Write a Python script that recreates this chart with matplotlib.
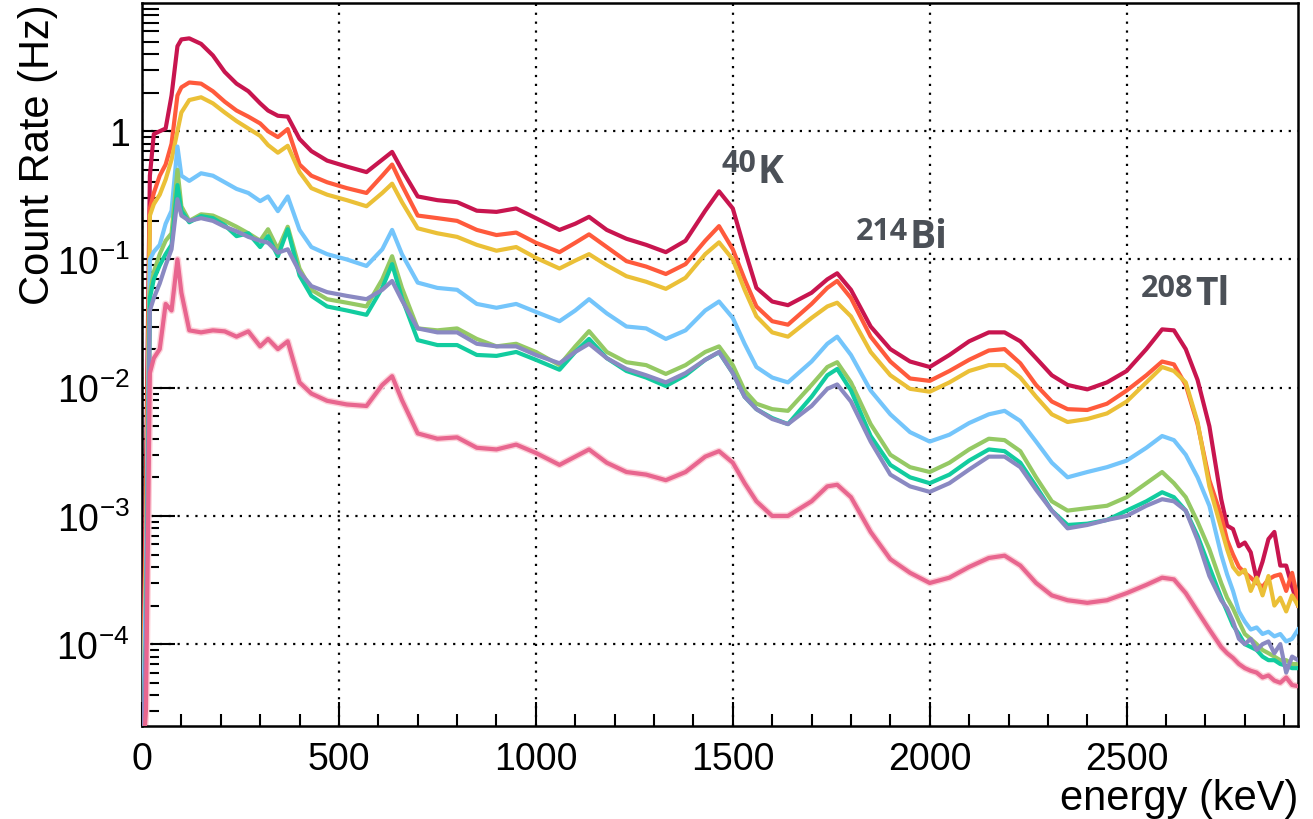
import numpy as np
import matplotlib
matplotlib.use("Agg")
import matplotlib.pyplot as plt
from matplotlib.ticker import FixedLocator, FixedFormatter, MultipleLocator

plt.rcParams['font.family'] = ['Liberation Sans', 'DejaVu Sans']
plt.rcParams['mathtext.default'] = 'regular'

# energy grid (keV) and count rates (Hz)
energy = [0, 10, 20, 30, 45, 60, 75, 90, 100, 120,
          150, 180, 210, 240, 270, 300, 320, 345, 370, 400,
          430, 470, 520, 570, 610, 635, 660, 700, 750, 800,
          850, 900, 950, 1000, 1060, 1100, 1135, 1180, 1230, 1280,
          1330, 1380, 1430, 1465, 1500, 1530, 1560, 1600, 1640, 1700,
          1740, 1765, 1800, 1850, 1900, 1950, 2000, 2050, 2100, 2150,
          2190, 2230, 2270, 2310, 2350, 2400, 2450, 2500, 2550, 2590,
          2620, 2650, 2680, 2710,
          2740, 2755, 2770, 2785, 2800, 2815, 2830, 2845, 2860, 2875,
          2890, 2905, 2920, 2935]

rate_crimson = [1e-5, 2e-3, 0.45, 0.95, 1.0, 1.05, 1.9, 4.6, 5.2, 5.3,
                4.8, 3.9, 2.9, 2.35, 2.05, 1.65, 1.45, 1.32, 1.3, 0.87,
                0.7, 0.59, 0.53, 0.48, 0.6, 0.69, 0.5, 0.31, 0.29, 0.28,
                0.24, 0.235, 0.25, 0.21, 0.17, 0.19, 0.215, 0.17, 0.145, 0.13,
                0.114, 0.14, 0.24, 0.34, 0.25, 0.12, 0.06, 0.047, 0.044, 0.055,
                0.07, 0.078, 0.058, 0.03, 0.02, 0.016, 0.0145, 0.018, 0.023, 0.027,
                0.027, 0.023, 0.017, 0.0125, 0.0105, 0.0097, 0.011, 0.0135, 0.02, 0.0285,
                0.028, 0.02, 0.0115, 0.005,
                1.35e-3, 8.4e-4, 7.9e-4, 5.8e-4, 6.2e-4, 5.2e-4, 3.2e-4, 4.4e-4, 6.6e-4, 7.5e-4,
                4.1e-4, 4.1e-4, 2.8e-4, 2.0e-4]

rate_red = [1e-5, 1e-3, 0.25, 0.33, 0.45, 0.55, 0.8, 1.9, 2.2, 2.4,
            2.35, 2.05, 1.7, 1.45, 1.3, 1.15, 1.0, 0.9, 1.04, 0.55,
            0.45, 0.4, 0.36, 0.33, 0.45, 0.55, 0.38, 0.22, 0.21, 0.2,
            0.17, 0.155, 0.162, 0.135, 0.114, 0.135, 0.157, 0.125, 0.097, 0.088,
            0.077, 0.092, 0.14, 0.182, 0.12, 0.07, 0.043, 0.033, 0.031, 0.045,
            0.06, 0.068, 0.05, 0.025, 0.016, 0.0118, 0.0113, 0.0135, 0.0165, 0.0195,
            0.02, 0.0155, 0.0105, 0.0078, 0.0068, 0.0067, 0.0075, 0.0095, 0.0125, 0.016,
            0.0152, 0.0105, 0.0052, 0.0019,
            1.0e-3, 6.5e-4, 5e-4, 4e-4, 3.6e-4, 3.3e-4, 3e-4, 2.8e-4, 3.2e-4, 3.4e-4,
            3.5e-4, 2.6e-4, 3.6e-4, 2.2e-4]

rate_yellow = [1e-5, 5e-4, 0.22, 0.27, 0.32, 0.42, 0.6, 1.0, 1.4, 1.75,
               1.84, 1.65, 1.4, 1.2, 1.05, 0.92, 0.78, 0.68, 0.77, 0.48,
               0.36, 0.32, 0.29, 0.26, 0.33, 0.39, 0.28, 0.175, 0.16, 0.15,
               0.13, 0.117, 0.125, 0.103, 0.085, 0.098, 0.11, 0.09, 0.074, 0.067,
               0.059, 0.072, 0.11, 0.136, 0.1, 0.058, 0.036, 0.027, 0.025, 0.035,
               0.043, 0.046, 0.036, 0.019, 0.0125, 0.0098, 0.0093, 0.011, 0.0135, 0.015,
               0.015, 0.012, 0.0085, 0.0062, 0.0054, 0.0057, 0.0063, 0.0078, 0.011, 0.0145,
               0.0135, 0.011, 0.0054, 0.0017,
               8e-4, 5.5e-4, 4e-4, 3.5e-4, 3.8e-4, 2.6e-4, 3.3e-4, 2.4e-4, 3.4e-4, 2e-4,
               2.3e-4, 1.8e-4, 2.4e-4, 2e-4]

rate_blue = [1e-5, 3e-4, 0.1, 0.115, 0.13, 0.19, 0.24, 0.76, 0.45, 0.41,
             0.47, 0.45, 0.4, 0.355, 0.33, 0.285, 0.31, 0.238, 0.31, 0.17,
             0.125, 0.11, 0.1, 0.089, 0.12, 0.17, 0.11, 0.066, 0.06, 0.058,
             0.045, 0.042, 0.045, 0.039, 0.033, 0.04, 0.049, 0.038, 0.03, 0.029,
             0.024, 0.028, 0.04, 0.047, 0.035, 0.022, 0.0145, 0.012, 0.011, 0.016,
             0.022, 0.025, 0.018, 0.0095, 0.0062, 0.0045, 0.0038, 0.0043, 0.0053, 0.0062,
             0.0066, 0.0055, 0.0038, 0.0026, 0.002, 0.0022, 0.0024, 0.0027, 0.0034, 0.0042,
             0.0039, 0.003, 0.002, 0.0012,
             5e-4, 3.5e-4, 2.6e-4, 1.8e-4, 1.5e-4, 1.3e-4, 1.35e-4, 1.2e-4, 1.25e-4, 1.15e-4,
             1.2e-4, 1.05e-4, 1.1e-4, 1.3e-4]

rate_green = [1e-5, 1e-4, 0.055, 0.08, 0.11, 0.14, 0.16, 0.5, 0.26, 0.2,
              0.225, 0.22, 0.2, 0.18, 0.16, 0.14, 0.172, 0.12, 0.18, 0.085,
              0.058, 0.049, 0.046, 0.043, 0.07, 0.106, 0.06, 0.029, 0.028, 0.029,
              0.024, 0.021, 0.022, 0.019, 0.015, 0.021, 0.0276, 0.019, 0.0158, 0.015,
              0.0128, 0.015, 0.019, 0.021, 0.015, 0.0095, 0.0075, 0.0068, 0.0066, 0.0105,
              0.0145, 0.0158, 0.011, 0.0052, 0.003, 0.0024, 0.0022, 0.0026, 0.0033, 0.004,
              0.0039, 0.0032, 0.002, 0.0013, 0.0011, 0.00115, 0.0012, 0.0014, 0.0018, 0.0022,
              0.0018, 0.0014, 9e-4, 5.5e-4,
              3e-4, 2.3e-4, 1.9e-4, 1.5e-4, 1.2e-4, 1.1e-4, 1e-4, 9e-5, 8.5e-5, 8e-5,
              7.5e-5, 7.5e-5, 7e-5, 7e-5]

rate_teal = [1e-5, 1e-4, 0.05, 0.07, 0.09, 0.11, 0.13, 0.38, 0.24, 0.195,
             0.218, 0.21, 0.185, 0.152, 0.16, 0.125, 0.152, 0.106, 0.172, 0.075,
             0.052, 0.043, 0.04, 0.037, 0.06, 0.092, 0.05, 0.0235, 0.0215, 0.0215,
             0.018, 0.0177, 0.019, 0.0165, 0.0138, 0.019, 0.024, 0.017, 0.0135, 0.012,
             0.0103, 0.0125, 0.0165, 0.0189, 0.013, 0.0085, 0.0068, 0.0058, 0.0052, 0.0085,
             0.0125, 0.014, 0.0095, 0.0042, 0.0025, 0.002, 0.0018, 0.0021, 0.0027, 0.0033,
             0.0032, 0.0026, 0.0017, 0.0011, 8.5e-4, 8.7e-4, 9.3e-4, 0.0011, 0.0013, 0.00153,
             0.0014, 0.0011, 7e-4, 4e-4,
             2.3e-4, 1.8e-4, 1.4e-4, 1.2e-4, 1.0e-4, 9.5e-5, 9e-5, 8e-5, 7.5e-5, 7.5e-5,
             7e-5, 6.8e-5, 6.5e-5, 6.5e-5]

rate_purple = [1e-5, 1e-4, 0.04, 0.05, 0.065, 0.09, 0.12, 0.295, 0.22, 0.2,
               0.21, 0.2, 0.18, 0.166, 0.15, 0.14, 0.135, 0.113, 0.12, 0.08,
               0.062, 0.0556, 0.052, 0.049, 0.058, 0.068, 0.048, 0.029, 0.027, 0.027,
               0.022, 0.021, 0.021, 0.018, 0.0155, 0.019, 0.022, 0.017, 0.014, 0.0125,
               0.011, 0.013, 0.0165, 0.019, 0.013, 0.0085, 0.0068, 0.0057, 0.0052, 0.0072,
               0.0098, 0.0106, 0.0078, 0.0038, 0.0021, 0.0017, 0.00154, 0.0018, 0.0023, 0.0029,
               0.0029, 0.0024, 0.0016, 0.0011, 8e-4, 8.5e-4, 9.3e-4, 0.001, 0.0012, 0.00135,
               0.0013, 0.0011, 6.5e-4, 3.4e-4,
               2.2e-4, 1.9e-4, 1.5e-4, 1.1e-4, 1.0e-4, 1.1e-4, 9e-5, 1.0e-4, 1.05e-4, 8.5e-5,
               1.0e-4, 6e-5, 8e-5, 7.5e-5]

rate_pink = [1e-5, 3e-5, 0.013, 0.017, 0.02, 0.045, 0.04, 0.1, 0.055, 0.028,
             0.027, 0.028, 0.0275, 0.025, 0.0275, 0.021, 0.024, 0.02, 0.023, 0.011,
             0.009, 0.0079, 0.0074, 0.0072, 0.0105, 0.0123, 0.008, 0.0044, 0.004, 0.0041,
             0.0034, 0.0033, 0.0036, 0.0031, 0.0025, 0.0029, 0.0033, 0.0026, 0.0022, 0.0021,
             0.0019, 0.0022, 0.0029, 0.0032, 0.0026, 0.0018, 0.0013, 0.001, 0.001, 0.0013,
             0.0017, 0.00175, 0.0014, 7.5e-4, 4.6e-4, 3.6e-4, 3.0e-4, 3.3e-4, 4e-4, 4.7e-4,
             4.9e-4, 4.1e-4, 3.0e-4, 2.4e-4, 2.2e-4, 2.1e-4, 2.2e-4, 2.5e-4, 2.9e-4, 3.3e-4,
             3.2e-4, 2.5e-4, 1.8e-4, 1.3e-4,
             9.5e-5, 8.5e-5, 7.8e-5, 7e-5, 6.5e-5, 6.2e-5, 6e-5, 5.5e-5, 5.7e-5, 5.2e-5,
             5e-5, 5.5e-5, 4.8e-5, 4.7e-5]

series = [rate_crimson, rate_red, rate_yellow, rate_blue,
          rate_green, rate_teal, rate_purple, rate_pink]
colors = ['#c8154f', '#ff5a3c', '#ebc037', '#74c5fb',
          '#95c964', '#12cc9f', '#8a89c2', '#e8668f']

fig = plt.figure(figsize=(13.13, 8.2), dpi=100)
ax = fig.add_axes([142 / 1313, 1 - 727 / 820, 1156 / 1313, 723 / 820])

# light error band under the lowest spectrum
ax.plot(energy, rate_pink, color='#fdd3da', lw=5, zorder=2)
for vals, col in zip(series, colors):
    ax.plot(energy, vals, color=col, lw=3, zorder=3)

ax.set_yscale('log')
ax.set_xlim(0, 2935)
ax.set_ylim(2.3e-5, 10)

ax.xaxis.set_major_locator(MultipleLocator(500))
ax.xaxis.set_minor_locator(MultipleLocator(100))
ax.yaxis.set_major_locator(FixedLocator([1e-4, 1e-3, 1e-2, 1e-1, 1]))
ax.yaxis.set_major_formatter(FixedFormatter(['$10^{-4}$', '$10^{-3}$', '$10^{-2}$', '$10^{-1}$', '1']))
ax.yaxis.set_minor_locator(FixedLocator([m * 10.0 ** d for d in range(-5, 1) for m in range(2, 10)]))

ax.tick_params(axis='both', which='both', direction='in', width=1.5, labelsize=27)
ax.tick_params(axis='x', which='major', length=17, pad=11)
ax.tick_params(axis='x', which='minor', length=9)
ax.tick_params(axis='y', which='major', length=24, pad=9)
ax.tick_params(axis='y', which='minor', length=12)
for sp in ax.spines.values():
    sp.set_linewidth(1.8)

ax.grid(True, which='major', color='black', linestyle=(0, (1, 3)), linewidth=1.6)
ax.set_axisbelow(True)

ax.set_xlabel('energy (keV)', fontsize=30, loc='right')
ax.xaxis.set_label_coords(1.0, -0.072)
ax.xaxis.label.set_va('top')
ax.set_ylabel('Count Rate (Hz)', fontsize=30, loc='top')
ax.yaxis.set_label_coords(-0.073, 1.0)

lab_color = '#4b5057'
lab_font = ['Open Sans', 'DejaVu Sans']
for el, iso, ex, ey_el, ey_iso in [('K', '40', 1563, 0.40, 0.488),
                                    ('Bi', '214', 1949, 0.125, 0.144),
                                    ('Tl', '208', 2673, 0.0449, 0.0518)]:
    ax.text(ex, ey_el, el, fontsize=28, fontweight='bold', color=lab_color,
            family=lab_font, ha='left', va='baseline', zorder=5)
    ax.text(ex - 4, ey_iso, iso, fontsize=22, fontweight='bold', color=lab_color,
            family=lab_font, ha='right', va='baseline', zorder=5)

fig.savefig('out.png', dpi=100)
